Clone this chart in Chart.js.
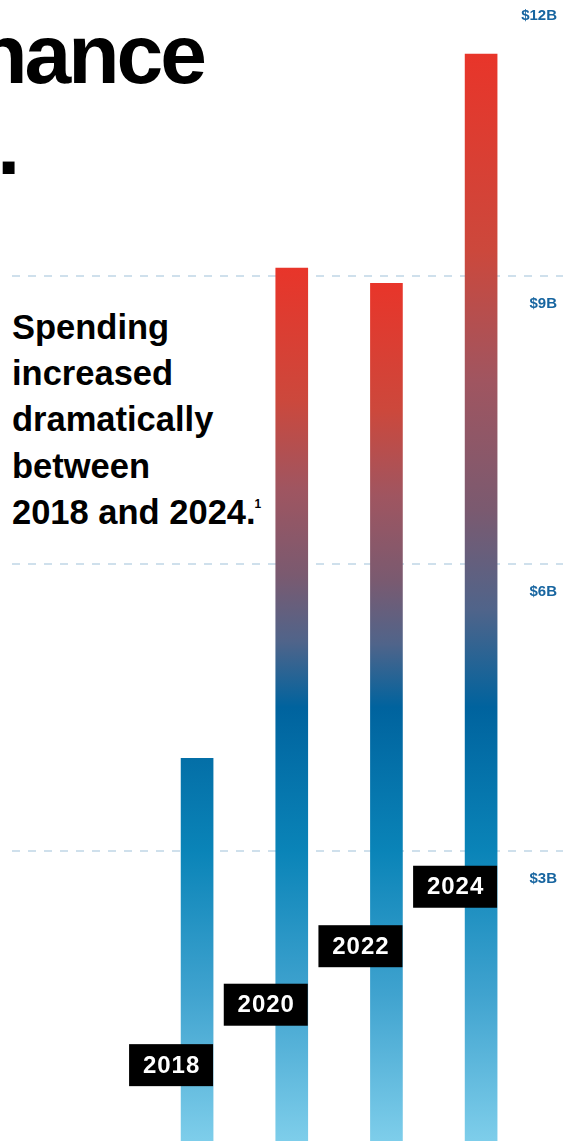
<!DOCTYPE html>
<html>
<head>
<meta charset="utf-8">
<script src="https://cdn.jsdelivr.net/npm/chart.js@4"></script>
<style>
  html, body { margin: 0; padding: 0; background: #fff; }
  body { width: 571px; height: 1141px; position: relative; overflow: hidden; font-family: "Liberation Sans", Arial, sans-serif; }
  #chartBox { position: absolute; left: 0; top: -40px; width: 571px; height: 1200px; }
  .title { position: absolute; font-weight: bold; font-size: 84px; line-height: 84px; letter-spacing: -3px; color: #000; white-space: nowrap; }
  .note { position: absolute; left: 12px; top: 304px; font-weight: bold; font-size: 34.5px; line-height: 46.2px; color: #000; }
  .note sup { font-size: 12px; vertical-align: 16px; line-height: 0; margin-left: -1px; }
</style>
</head>
<body>
<div class="title" style="right: 367px; top: 12px;">nance</div>
<div class="title" style="left: -3px; top: 103px;">.</div>
<div class="note">Spending<br>increased<br>dramatically<br>between<br>2018 and 2024.<sup>1</sup></div>
<div id="chartBox"><canvas id="spendChart"></canvas></div>
<script>
// Spending by year, $ billions
const years = [2018, 2020, 2022, 2024];
const spending = [3.97, 9.08, 8.92, 11.31];
// where each year tag sits on the value axis
const tagLevels = [0.77, 1.40, 2.01, 2.63];
const yTicks = [0, 3, 6, 9, 12];
const barBase = -0.05; // bars run off the bottom edge

// blue part of the ramp, by value
const blueRamp = [[0, [125, 205, 234]], [1.5, [64, 163, 207]], [3, [10, 132, 184]], [4.5, [0, 99, 158]]];
// top part, from dark blue up to the bar top
const redRamp = [[0, [0, 99, 158]], [0.15, [80, 100, 138]], [0.3, [122, 90, 112]], [0.5, [160, 85, 96]], [0.7, [204, 72, 60]], [1, [232, 53, 42]]];

function rampColor(ramp, t) {
    for (let i = 1; i < ramp.length; i++) {
        if (t <= ramp[i][0]) {
            const a = ramp[i - 1], b = ramp[i];
            const f = (t - a[0]) / (b[0] - a[0]);
            const c = a[1].map((v, k) => Math.round(v + (b[1][k] - v) * f));
            return `rgb(${c[0]},${c[1]},${c[2]})`;
        }
    }
    const c = ramp[ramp.length - 1][1];
    return `rgb(${c[0]},${c[1]},${c[2]})`;
}

function barGradient(context) {
    const chart = context.chart;
    if (!chart.chartArea) return '#0a84b8';
    const y = chart.scales.y;
    const v = spending[context.dataIndex];
    const g = chart.ctx.createLinearGradient(0, y.getPixelForValue(0), 0, y.getPixelForValue(v));
    const blueTop = 4.5;
    blueRamp.forEach(s => {
        if (s[0] <= v) g.addColorStop(s[0] / v, rampColor(blueRamp, s[0]));
    });
    if (v <= blueTop) {
        g.addColorStop(1, rampColor(blueRamp, v));
    } else {
        redRamp.forEach(s => {
            const val = blueTop + (v - blueTop) * s[0];
            g.addColorStop(val / v, rampColor(redRamp, s[0]));
        });
    }
    return g;
}

// black year tags, right edge on the bar's right edge
const yearTags = {
    id: 'yearTags',
    afterDatasetsDraw(chart) {
        const ctx = chart.ctx;
        const meta = chart.getDatasetMeta(0);
        const y = chart.scales.y;
        meta.data.forEach((bar, i) => {
            const right = bar.x + bar.width / 2;
            const cy = y.getPixelForValue(tagLevels[i]);
            const w = 84, h = 42;
            ctx.save();
            ctx.fillStyle = '#000';
            ctx.fillRect(right - w, cy - h / 2, w, h);
            ctx.fillStyle = '#fff';
            ctx.font = 'bold 24px "Liberation Sans", Arial, sans-serif';
            ctx.letterSpacing = '1px';
            ctx.textAlign = 'center';
            ctx.textBaseline = 'middle';
            ctx.fillText(String(years[i]), right - w / 2 + 0.5, cy + 1);
            ctx.restore();
        });
    }
};

new Chart(document.getElementById('spendChart'), {
    type: 'bar',
    data: {
        datasets: [{
            data: years.map((yr, i) => ({ x: yr, y: spending[i] })),
            backgroundColor: barGradient,
            borderWidth: 0,
            barThickness: 32,
            base: barBase
        }]
    },
    options: {
        responsive: true,
        maintainAspectRatio: false,
        animation: false,
        layout: { padding: { left: 12, right: 8, top: 28, bottom: 16.2 } },
        plugins: { legend: { display: false }, tooltip: { enabled: false } },
        scales: {
            x: {
                type: 'linear',
                display: false,
                offset: false,
                min: 2014.09,
                max: 2025.73,
                grid: { offset: false }
            },
            y: {
                position: 'right',
                min: barBase,
                max: 12,
                afterBuildTicks: scale => { scale.ticks = yTicks.map(v => ({ value: v })); },
                afterFit: scale => { scale.width = 0; },
                border: { display: false, dash: [8, 8] },
                grid: {
                    drawTicks: false,
                    lineWidth: 2,
                    color: c => c.tick && c.tick.value === 0 ? 'rgba(0,0,0,0)' : '#cfe0ec'
                },
                ticks: {
                    mirror: true,
                    padding: -6,
                    labelOffset: 28,
                    color: '#1765a0',
                    font: { family: '"Liberation Sans", Arial, sans-serif', size: 15, weight: 'bold' },
                    callback: v => v === 0 ? '' : '$' + v + 'B'
                }
            }
        }
    },
    plugins: [yearTags]
});
</script>
</body>
</html>
